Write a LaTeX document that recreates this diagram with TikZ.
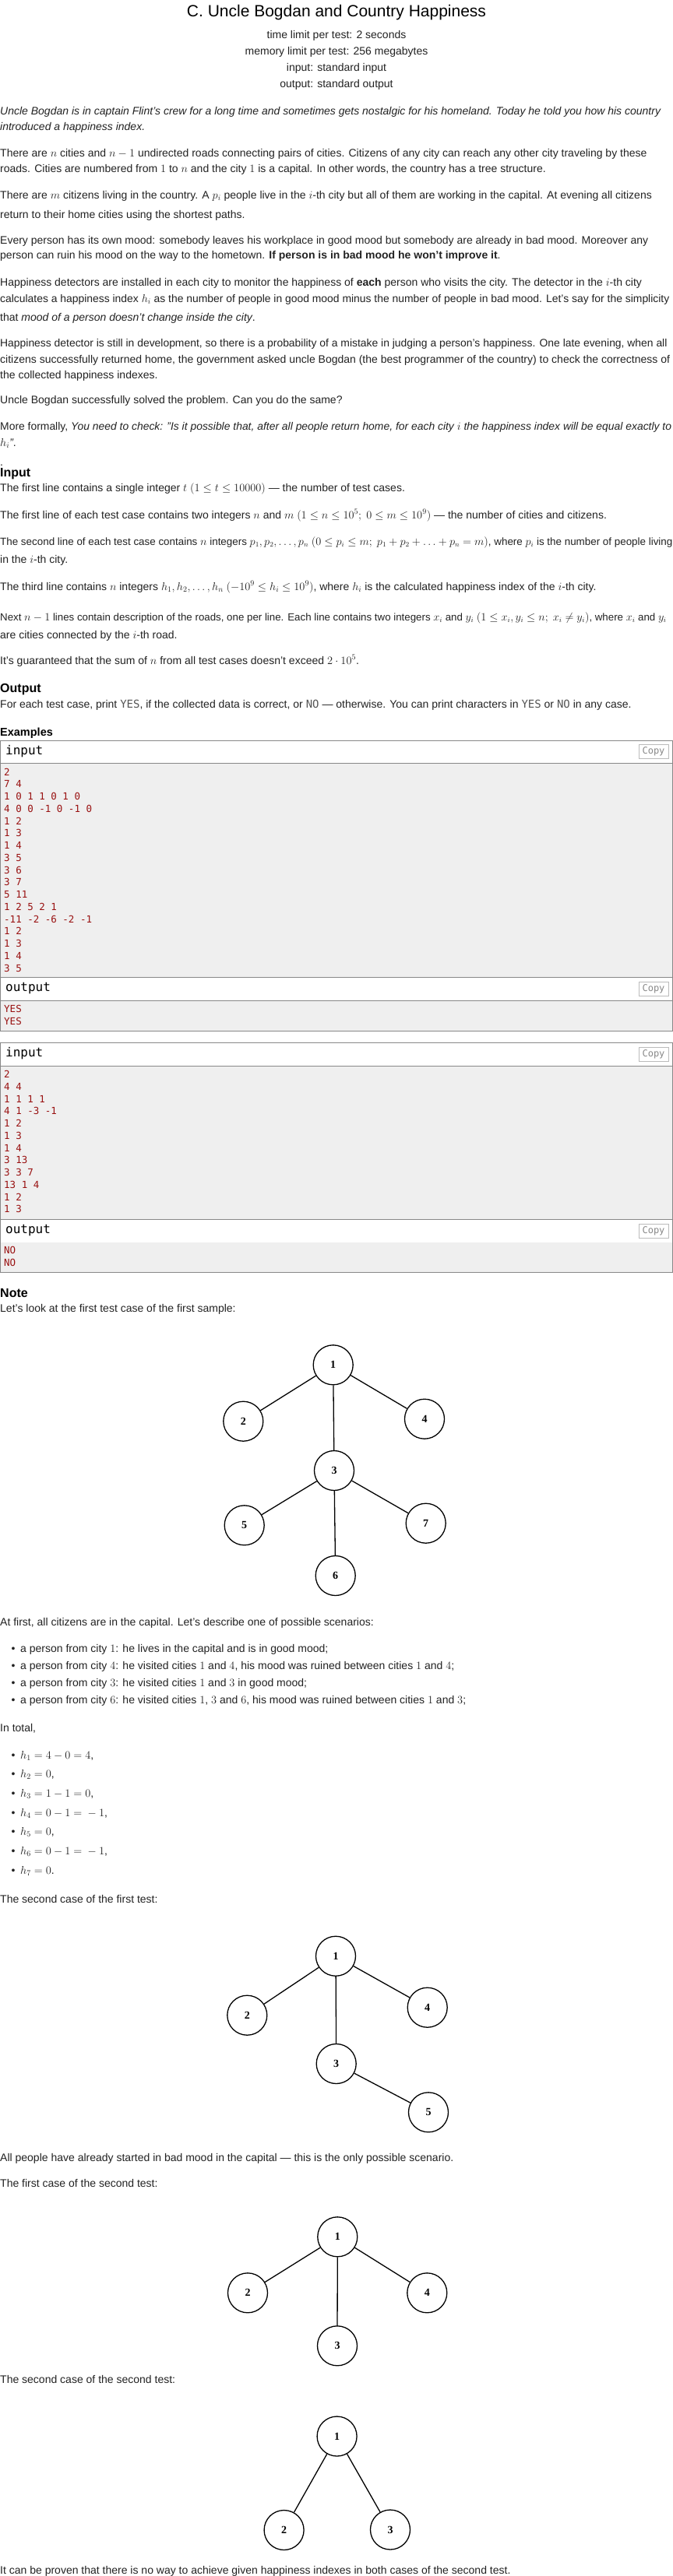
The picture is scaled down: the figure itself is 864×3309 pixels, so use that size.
\documentclass[tikz,border=0pt]{standalone}
\usepackage{amsmath,amssymb}
\usepackage[no-math]{fontspec}
\setmainfont{Liberation Sans}
\setmonofont{DejaVu Sans Mono}
\newfontfamily\cityfont{Liberation Serif}
\usepackage{tikz}

\definecolor{bodygray}{HTML}{222222}
\definecolor{samplered}{HTML}{991111}
\definecolor{boxline}{HTML}{888888}
\definecolor{samplebg}{HTML}{EFEFEF}
\definecolor{copygray}{HTML}{888888}
\definecolor{copyline}{HTML}{BBBBBB}
\definecolor{ttgray}{HTML}{555555}

\begin{document}
\begin{tikzpicture}[x=1pt,y=-1pt,
	txt/.style={anchor=base west,inner sep=0pt,text=bodygray,font=\fontsize{14}{20}\selectfont},
	ctr/.style={anchor=base,inner sep=0pt,text=bodygray,font=\fontsize{14}{20}\selectfont},
	ttl/.style={anchor=base,inner sep=0pt,text=black,font=\fontsize{21}{25}\selectfont},
	hdr/.style={anchor=base west,inner sep=0pt,text=black,font=\fontsize{16}{20}\selectfont\bfseries},
	bul/.style={anchor=base,inner sep=0pt,text=bodygray,font=\fontsize{14}{20}\selectfont},
	smp/.style={anchor=base west,inner sep=0pt,text=samplered,font=\fontsize{12.5}{15.75}\ttfamily},
	boxttl/.style={anchor=base west,inner sep=0pt,text=black,font=\fontsize{16}{16}\ttfamily},
	copybtn/.style={draw=copyline,line width=0.8pt,text=copygray,font=\fontsize{12}{12}\ttfamily,minimum width=38pt,minimum height=18pt,inner sep=0pt},
	city/.style={circle,draw,line width=1.3pt,minimum size=51pt,inner sep=0pt,font=\fontsize{14}{14}\cityfont\bfseries},
	road/.style={line width=1.3pt}]
	\fill[white] (0,0) rectangle (864,3309);
	\useasboundingbox (0,0) rectangle (864,3309);
	
	% header
	\node[ttl] (title) at (432,21) {C. Uncle Bogdan and Country Happiness};
	\node[ctr] (tlim) at (432,49) {time limit per test: 2 seconds};
	\node[ctr] (mlim) at (432,70) {memory limit per test: 256 megabytes};
	\node[ctr] (infile) at (432,91) {input: standard input};
	\node[ctr] (outfile) at (432,112) {output: standard output};
	
	% legend
	\node[txt] (p1a) at (0,147) {\itshape Uncle Bogdan is in captain Flint's crew for a long time and sometimes gets nostalgic for his homeland. Today he told you how his country};
	\node[txt] (p1b) at (0,167) {\itshape introduced a happiness index.};
	\node[txt] (p2a) at (0,201) {There are $n$ cities and $n-1$ undirected roads connecting pairs of cities. Citizens of any city can reach any other city traveling by these};
	\node[txt] (p2b) at (0,221) {roads. Cities are numbered from $1$ to $n$ and the city $1$ is a capital. In other words, the country has a tree structure.};
	\node[txt] (p3a) at (0,255) {There are $m$ citizens living in the country. A $p_i$ people live in the $i$-th city but all of them are working in the capital. At evening all citizens};
	\node[txt] (p3b) at (0,280) {return to their home cities using the shortest paths.};
	\node[txt] (p4a) at (0,313) {Every person has its own mood: somebody leaves his workplace in good mood but somebody are already in bad mood. Moreover any};
	\node[txt] (p4b) at (0,332) {person can ruin his mood on the way to the hometown. \textbf{If person is in bad mood he won't improve it}.};
	\node[txt] (p5a) at (0,367) {Happiness detectors are installed in each city to monitor the happiness of \textbf{each} person who visits the city. The detector in the $i$-th city};
	\node[txt,font=\fontsize{13.9}{20}\selectfont] (p5b) at (0,388) {calculates a happiness index $h_i$ as the number of people in good mood minus the number of people in bad mood. Let's say for the simplicity};
	\node[txt] (p5c) at (0,412) {that \emph{mood of a person doesn't change inside the city}.};
	\node[txt,font=\fontsize{13.9}{20}\selectfont] (p6a) at (0,445) {Happiness detector is still in development, so there is a probability of a mistake in judging a person's happiness. One late evening, when all};
	\node[txt] (p6b) at (0,466) {citizens successfully returned home, the government asked uncle Bogdan (the best programmer of the country) to check the correctness of};
	\node[txt] (p6c) at (0,486) {the collected happiness indexes.};
	\node[txt] (p7) at (0,518) {Uncle Bogdan successfully solved the problem. Can you do the same?};
	\node[txt,font=\fontsize{13.9}{20}\selectfont] (p8a) at (0,552) {More formally, \emph{You need to check: "Is it possible that, after all people return home, for each city $i$ the happiness index will be equal exactly to}};
	\node[txt] (p8b) at (0,573) {\emph{$h_i$"}.};
	\node[txt] (stray) at (0,598) {.};
	
	% input
	\node[hdr] (inhdr) at (0,612) {Input};
	\node[txt] (i1) at (0,631) {The first line contains a single integer $t$ $(1 \le t \le 10000)$ — the number of test cases.};
	\node[txt] (i2) at (0,666) {The first line of each test case contains two integers $n$ and $m$ $(1 \le n \le 10^5;\ 0 \le m \le 10^9)$ — the number of cities and citizens.};
	\node[txt,font=\fontsize{13.4}{20}\selectfont] (i3a) at (0,700) {The second line of each test case contains $n$ integers $p_1, p_2, \ldots, p_n$ $(0 \le p_i \le m;\ p_1 + p_2 + \ldots + p_n = m)$, where $p_i$ is the number of people living};
	\node[txt] (i3b) at (0,723) {in the $i$-th city.};
	\node[txt] (i4) at (0,758) {The third line contains $n$ integers $h_1, h_2, \ldots, h_n$ $(-10^9 \le h_i \le 10^9)$, where $h_i$ is the calculated happiness index of the $i$-th city.};
	\node[txt,font=\fontsize{13.3}{20}\selectfont] (i5a) at (0,797) {Next $n-1$ lines contain description of the roads, one per line. Each line contains two integers $x_i$ and $y_i$ $(1 \le x_i, y_i \le n;\ x_i \ne y_i)$, where $x_i$ and $y_i$};
	\node[txt] (i5b) at (0,820) {are cities connected by the $i$-th road.};
	\node[txt] (i6) at (0,853) {It's guaranteed that the sum of $n$ from all test cases doesn't exceed $2 \cdot 10^5$.};
	
	% output
	\node[hdr] (outhdr) at (0,889) {Output};
	\node[txt] (o1) at (0,909) {For each test case, print {\color{ttgray}\ttfamily YES}, if the collected data is correct, or {\color{ttgray}\ttfamily NO} — otherwise. You can print characters in {\color{ttgray}\ttfamily YES} or {\color{ttgray}\ttfamily NO} in any case.};
	
	% examples
	\node[hdr,font=\fontsize{14.5}{18}\selectfont\bfseries] (exhdr) at (0,945) {Examples};
	
	\fill[samplebg] (0.5,980) rectangle (863.5,1255);
	\fill[samplebg] (0.5,1285) rectangle (863.5,1324);
	\draw[boxline] (0.5,951) rectangle (863.5,1324);
	\draw[boxline] (0.5,980) -- (863.5,980);
	\draw[boxline] (0.5,1255) -- (863.5,1255);
	\draw[boxline] (0.5,1285) -- (863.5,1285);
	\node[boxttl] (inA) at (7,969.5) {input};
	\node[copybtn] (cpinA) at (839,965.5) {Copy};
	\node[boxttl] (outA) at (7,1273.5) {output};
	\node[copybtn] (cpoutA) at (839,1270) {Copy};
	
	\node[smp] (ina0) at (5,996) {2};
	\node[smp] (ina1) at (5,1011.75) {7 4};
	\node[smp] (ina2) at (5,1027.5) {1 0 1 1 0 1 0};
	\node[smp] (ina3) at (5,1043.25) {4 0 0 -1 0 -1 0};
	\node[smp] (ina4) at (5,1059) {1 2};
	\node[smp] (ina5) at (5,1074.75) {1 3};
	\node[smp] (ina6) at (5,1090.5) {1 4};
	\node[smp] (ina7) at (5,1106.25) {3 5};
	\node[smp] (ina8) at (5,1122) {3 6};
	\node[smp] (ina9) at (5,1137.75) {3 7};
	\node[smp] (ina10) at (5,1153.5) {5 11};
	\node[smp] (ina11) at (5,1169.25) {1 2 5 2 1};
	\node[smp] (ina12) at (5,1185) {-11 -2 -6 -2 -1};
	\node[smp] (ina13) at (5,1200.75) {1 2};
	\node[smp] (ina14) at (5,1216.5) {1 3};
	\node[smp] (ina15) at (5,1232.25) {1 4};
	\node[smp] (ina16) at (5,1248) {3 5};
	\node[smp] (outa0) at (5,1300.5) {YES};
	\node[smp] (outa1) at (5,1316.25) {YES};
	
	\fill[samplebg] (0.5,1369) rectangle (863.5,1566);
	\fill[samplebg] (0.5,1596) rectangle (863.5,1634);
	\draw[boxline] (0.5,1339) rectangle (863.5,1634);
	\draw[boxline] (0.5,1369) -- (863.5,1369);
	\draw[boxline] (0.5,1566) -- (863.5,1566);
	\node[boxttl] (inB) at (7,1357.5) {input};
	\node[copybtn] (cpinB) at (839,1354) {Copy};
	\node[boxttl] (outB) at (7,1584.5) {output};
	\node[copybtn] (cpoutB) at (839,1581) {Copy};
	
	\node[smp] (inb0) at (5,1384.5) {2};
	\node[smp] (inb1) at (5,1400.25) {4 4};
	\node[smp] (inb2) at (5,1416) {1 1 1 1};
	\node[smp] (inb3) at (5,1431.75) {4 1 -3 -1};
	\node[smp] (inb4) at (5,1447.5) {1 2};
	\node[smp] (inb5) at (5,1463.25) {1 3};
	\node[smp] (inb6) at (5,1479) {1 4};
	\node[smp] (inb7) at (5,1494.75) {3 13};
	\node[smp] (inb8) at (5,1510.5) {3 3 7};
	\node[smp] (inb9) at (5,1526.25) {13 1 4};
	\node[smp] (inb10) at (5,1542) {1 2};
	\node[smp] (inb11) at (5,1557.75) {1 3};
	\node[smp] (outb0) at (5,1610.5) {NO};
	\node[smp] (outb1) at (5,1626.25) {NO};
	
	% note
	\node[hdr] (notehdr) at (0,1666) {Note};
	\node[txt] (n1) at (0,1685) {Let's look at the first test case of the first sample:};
	
	\node[city] (a1) at (427.7,1753.3) {1};
	\node[city] (a2) at (312.3,1825.7) {2};
	\node[city] (a4) at (545,1822.7) {4};
	\node[city] (a3) at (429,1889) {3};
	\node[city] (a5) at (313.7,1959.3) {5};
	\node[city] (a7) at (546.7,1956.7) {7};
	\node[city] (a6) at (430.7,2024) {6};
	\draw[road] (a1) -- (a2) (a1) -- (a3) (a1) -- (a4) (a3) -- (a5) (a3) -- (a6) (a3) -- (a7);
	
	\node[txt] (n2) at (0,2088) {At first, all citizens are in the capital. Let's describe one of possible scenarios:};
	\node[bul] (s1d) at (17,2122) {•};
	\node[txt] (s1) at (26,2122) {a person from city $1$: he lives in the capital and is in good mood;};
	\node[bul] (s2d) at (17,2144) {•};
	\node[txt] (s2) at (26,2144) {a person from city $4$: he visited cities $1$ and $4$, his mood was ruined between cities $1$ and $4$;};
	\node[bul] (s3d) at (17,2166) {•};
	\node[txt] (s3) at (26,2166) {a person from city $3$: he visited cities $1$ and $3$ in good mood;};
	\node[bul] (s4d) at (17,2188) {•};
	\node[txt] (s4) at (26,2188) {a person from city $6$: he visited cities $1$, $3$ and $6$, his mood was ruined between cities $1$ and $3$;};
	
	\node[txt] (n3) at (0,2224) {In total,};
	\node[bul] (h1d) at (17,2259) {•};
	\node[txt] (h1) at (26,2259) {$h_1 = 4 - 0 = 4$,};
	\node[bul] (h2d) at (17,2283.7) {•};
	\node[txt] (h2) at (26,2283.7) {$h_2 = 0$,};
	\node[bul] (h3d) at (17,2308.4) {•};
	\node[txt] (h3) at (26,2308.4) {$h_3 = 1 - 1 = 0$,};
	\node[bul] (h4d) at (17,2333.1) {•};
	\node[txt] (h4) at (26,2333.1) {$h_4 = 0 - 1 = {} - 1$,};
	\node[bul] (h5d) at (17,2357.8) {•};
	\node[txt] (h5) at (26,2357.8) {$h_5 = 0$,};
	\node[bul] (h6d) at (17,2382.5) {•};
	\node[txt] (h6) at (26,2382.5) {$h_6 = 0 - 1 = {} - 1$,};
	\node[bul] (h7d) at (17,2407.2) {•};
	\node[txt] (h7) at (26,2407.2) {$h_7 = 0$.};
	
	\node[txt] (n4) at (0,2444) {The second case of the first test:};
	
	\node[city] (b1) at (431,2512.7) {1};
	\node[city] (b2) at (317.3,2588.7) {2};
	\node[city] (b4) at (548.7,2578.7) {4};
	\node[city] (b3) at (431.7,2651) {3};
	\node[city] (b5) at (550,2713.3) {5};
	\draw[road] (b1) -- (b2) (b1) -- (b3) (b1) -- (b4) (b3) -- (b5);
	
	\node[txt] (n5) at (0,2776) {All people have already started in bad mood in the capital — this is the only possible scenario.};
	\node[txt] (n6) at (0,2809) {The first case of the second test:};
	
	\node[city] (c1) at (433.3,2873.3) {1};
	\node[city] (c2) at (318,2945.3) {2};
	\node[city] (c4) at (548.3,2945.3) {4};
	\node[city] (c3) at (433,3013.3) {3};
	\draw[road] (c1) -- (c2) (c1) -- (c3) (c1) -- (c4);
	
	\node[txt] (n7) at (0,3061) {The second case of the second test:};
	
	\node[city] (d1) at (432.6,3129.5) {1};
	\node[city] (d2) at (364.6,3250) {2};
	\node[city] (d3) at (501,3249.5) {3};
	\draw[road] (d1) -- (d2) (d1) -- (d3);
	
	\node[txt] (n8) at (0,3306.7) {It can be proven that there is no way to achieve given happiness indexes in both cases of the second test.};
\end{tikzpicture}
\end{document}
